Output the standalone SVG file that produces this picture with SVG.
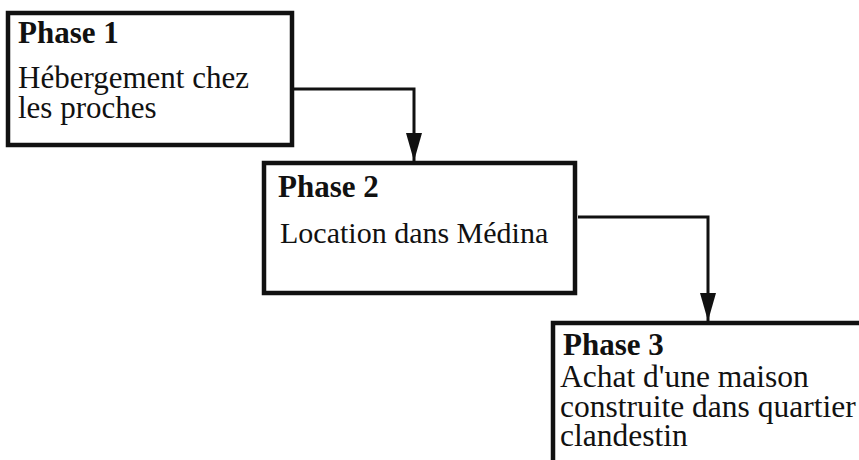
<svg xmlns="http://www.w3.org/2000/svg" width="859" height="460" viewBox="0 0 859 460">
<style>
.box{fill:#fff;stroke:#111;stroke-width:4.5}
.conn{fill:none;stroke:#111;stroke-width:3}
.t{font-family:"Liberation Serif","Times New Roman",serif;font-size:31px;fill:#111}
.h{font-weight:bold}
</style>
<defs>
<marker id="arr" viewBox="0 -8 28 16" markerUnits="userSpaceOnUse" markerWidth="28" markerHeight="16" refX="28" refY="0" orient="auto">
<path d="M0,-8 L28,0 L0,8 z" fill="#111"/>
</marker>
</defs>
<rect width="859" height="460" fill="#fff"/>
<g id="connectors">
<path class="conn" d="M294,89 H414 V161" marker-end="url(#arr)"/>
<path class="conn" d="M578,217 H708 V321" marker-end="url(#arr)"/>
</g>
<g id="phase1">
<rect class="box" x="8" y="13" width="284" height="132"/>
<text class="t h" x="18" y="43">Phase 1</text>
<text class="t" x="18" y="88">Hébergement chez</text>
<text class="t" x="18" y="118">les proches</text>
</g>
<g id="phase2">
<rect class="box" x="264" y="163" width="311" height="130"/>
<text class="t h" x="278" y="197">Phase 2</text>
<text class="t" x="280" y="243" style="font-size:30px">Location dans Médina</text>
</g>
<g id="phase3">
<rect class="box" x="553" y="323" width="330" height="160"/>
<text class="t h" x="563" y="355">Phase 3</text>
<text class="t" x="560" y="387" style="font-size:31.5px">Achat d'une maison</text>
<text class="t" x="560" y="417" style="font-size:31.5px">construite dans quartier</text>
<text class="t" x="560" y="446" style="font-size:31.5px">clandestin</text>
</g>
</svg>
